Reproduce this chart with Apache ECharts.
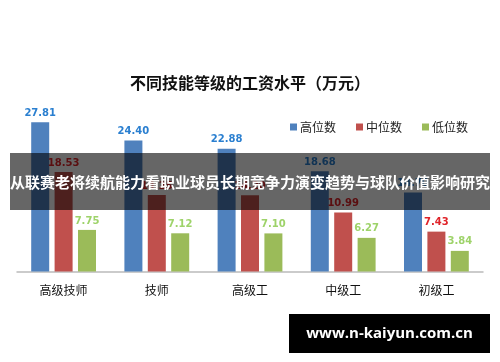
<!DOCTYPE html>
<html>
<head>
<meta charset="utf-8">
<script src="https://cdn.jsdelivr.net/npm/echarts@6/dist/echarts.min.js"></script>
<style>
  html, body { margin: 0; padding: 0; background: #fff; }
  #main { width: 500px; height: 362px; }
</style>
</head>
<body>
<div id="main"></div>
<script>
var categories = ['高级技师', '技师', '高级工', '中级工', '初级工']
var highValues = [27.81, 24.40, 22.88, 18.68, 14.70]
var midValues = [18.53, 14.25, 14.20, 10.99, 7.43]
var lowValues = [7.75, 7.12, 7.10, 6.27, 3.84]
var seriesNames = ['高位数', '中位数', '低位数']
var barColors = ['#4F81BD', '#C0504D', '#9BBB59']
var labelColors = ['#2A7FD0', '#E0242A', '#9ED36A']

var font = '"Noto Sans CJK SC", sans-serif'
var valueSeries = [highValues, midValues, lowValues]

var chart = echarts.init(document.getElementById('main'))
var option = {
  animation: false,
  title: {
    text: '不同技能等级的工资水平（万元）',
    left: 'center',
    top: 70,
    textStyle: { fontFamily: font, fontSize: 16, fontWeight: 'bold', color: '#111' }
  },
  legend: {
    data: seriesNames,
    left: 285,
    top: 116,
    itemWidth: 7,
    itemHeight: 7,
    itemGap: 20,
    icon: 'rect',
    textStyle: { fontFamily: font, fontSize: 12, color: '#222', padding: [0, 0, 0, -2] }
  },
  grid: { left: 17, right: 17, top: 110.5, bottom: 90.5 },
  xAxis: {
    type: 'category',
    data: categories,
    axisLine: { lineStyle: { color: '#BBBBBB', width: 1.5 } },
    axisTick: { show: false },
    axisLabel: { fontFamily: font, fontSize: 12, color: '#111', margin: 13 }
  },
  yAxis: {
    type: 'value',
    min: 0,
    max: 30,
    show: false,
    splitLine: { show: false }
  },
  series: seriesNames.map(function (name, i) {
    return {
      name: name,
      type: 'bar',
      data: valueSeries[i],
      barWidth: 18,
      barGap: '30%',
      itemStyle: { color: barColors[i] },
      label: {
        show: true,
        position: 'top',
        distance: 4,
        formatter: function (p) { return p.value.toFixed(2) },
        fontFamily: '"DejaVu Sans", sans-serif',
        fontSize: 10,
        fontWeight: 'bold',
        color: labelColors[i]
      }
    }
  }),
  graphic: [
    {
      type: 'rect',
      shape: { x: 10, y: 153, width: 480, height: 57 },
      style: { fill: 'rgba(0,0,0,0.6)' },
      z: 100
    },
    {
      type: 'text',
      x: 250,
      y: 182,
      style: {
        text: '从联赛老将续航能力看职业球员长期竞争力演变趋势与球队价值影响研究',
        fill: '#fff',
        font: 'bold 15px "Noto Sans CJK SC", sans-serif',
        align: 'center',
        verticalAlign: 'middle'
      },
      z: 101
    },
    {
      type: 'rect',
      shape: { x: 289, y: 314, width: 201, height: 39 },
      style: { fill: '#000' },
      z: 100
    },
    {
      type: 'text',
      x: 389.5,
      y: 333.5,
      style: {
        text: 'www.n-kaiyun.com.cn',
        fill: '#fff',
        font: 'bold 15px "Open Sans", sans-serif',
        align: 'center',
        verticalAlign: 'middle'
      },
      z: 101
    }
  ]
}
chart.setOption(option)
</script>
</body>
</html>
